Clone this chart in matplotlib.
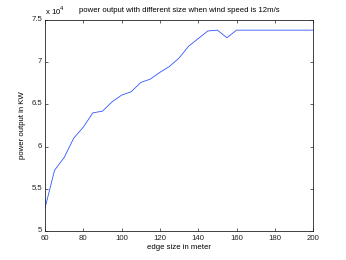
import matplotlib
matplotlib.use("Agg")
import matplotlib.pyplot as plt
import numpy as np
from matplotlib.transforms import ScaledTranslation

plt.rcParams['font.family'] = ['Liberation Sans', 'DejaVu Sans']

edge_size = [60, 65, 70, 75, 80, 85, 90, 95, 100, 105, 110, 115, 120, 125, 130,
             135, 140, 145, 150, 155, 160, 165, 170, 175, 180, 185, 190, 195, 200]
power_kw = [52700, 57200, 58700, 61000, 62300, 64000, 64200, 65300, 66100, 66500,
            67600, 68000, 68800, 69500, 70500, 71900, 72800, 73700, 73800, 72900,
            73800, 73800, 73800, 73800, 73800, 73800, 73800, 73800, 73800]

yticks = [5, 5.5, 6, 6.5, 7, 7.5]
ytick_labels = ['5', '5.5', '6', '6.5', '7', '7.5']
xticks = [60, 80, 100, 120, 140, 160, 180, 200]

fs = 5.6
fig = plt.figure(figsize=(3.46, 2.6), dpi=100)
ax = fig.add_axes([0.130, 0.1115, 0.775, 0.8115])
ax.plot(edge_size, np.array(power_kw) / 1e4, color='#3355ff', lw=0.6)
ax.set_xlim(60, 200)
ax.set_ylim(5, 7.5)
ax.set_xticks(xticks)
ax.set_xticklabels([str(t) for t in xticks])
ax.set_yticks(yticks)
ax.set_yticklabels(ytick_labels)
ax.tick_params(direction='in', length=2.5, width=0.5, labelsize=fs,
               top=True, right=True, colors='#222222')
ax.tick_params(axis='x', pad=3)
ax.tick_params(axis='y', pad=2)
# lift y tick labels slightly, as in the reference
for lab in ax.get_yticklabels():
    lab.set_transform(lab.get_transform() + ScaledTranslation(0, 1.5 / 100, fig.dpi_scale_trans))
for s in ax.spines.values():
    s.set_linewidth(0.6)
    s.set_color('#222222')
ax.set_xlabel('edge size in meter', fontsize=fs, labelpad=1.5)
ax.set_ylabel('power output in KW', fontsize=fs, labelpad=4)
ax.set_title('power output with different size when wind speed is 12m/s', fontsize=fs, pad=6)
ax.text(0.0, 1.015, r'x 10$^4$', transform=ax.transAxes, fontsize=fs, ha='left', va='bottom')
fig.savefig('out.png', dpi=100)
